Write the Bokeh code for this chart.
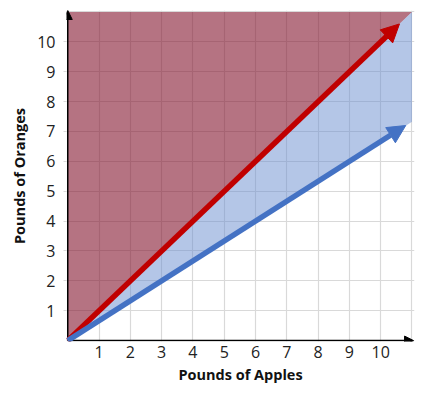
from bokeh.plotting import figure
from bokeh.models import Range1d, FixedTicker, Arrow, NormalHead
from bokeh.embed import file_html
from bokeh.resources import INLINE

# Data
ticks = [1, 2, 3, 4, 5, 6, 7, 8, 9, 10]
grid_ticks = [0, 1, 2, 3, 4, 5, 6, 7, 8, 9, 10, 11]
red_region_x = [0, 0, 11]
red_region_y = [0, 11, 11]
blue_region_x = [0, 11, 11]
blue_region_y = [0, 11, 7.33]
red_vec_x = [0, 10.6]
red_vec_y = [0, 10.6]
blue_vec_x = [0, 10.8]
blue_vec_y = [0, 7.2]
axis_end = 11.05

FONT = "Open Sans"

p = figure(width=416, height=387, output_backend="svg", toolbar_location=None,
           x_range=Range1d(-0.04, 11.08), y_range=Range1d(-0.03, 11.05),
           min_border_left=66, min_border_right=2, min_border_top=10, min_border_bottom=46)
p.outline_line_color = None
p.background_fill_color = "white"

# grid
for g in (p.xgrid, p.ygrid):
    g.ticker = FixedTicker(ticks=grid_ticks)
    g.grid_line_color = "#D9D9D9"
    g.grid_line_width = 1.2

# regions
p.patch(red_region_x, red_region_y, fill_color="#84162F", fill_alpha=0.6, line_color=None)
p.patch(blue_region_x, blue_region_y, fill_color="#698DCF", fill_alpha=0.5, line_color=None)

# axes styling
for ax in (p.xaxis[0], p.yaxis[0]):
    ax.ticker = FixedTicker(ticks=ticks)
    ax.axis_line_color = None
    ax.major_tick_line_color = "#D9D9D9"
    ax.major_tick_in = 0
    ax.minor_tick_line_color = None
    ax.major_label_text_font = FONT
    ax.major_label_text_font_size = "16px"
    ax.major_label_text_color = "#222222"
    ax.axis_label_text_font = FONT
    ax.axis_label_text_font_size = "14.5px"
    ax.axis_label_text_font_style = "bold"
    ax.axis_label_text_color = "#111111"

p.xaxis.major_tick_out = 0
p.yaxis.major_tick_out = 3
p.xaxis.axis_label = "Pounds of Apples"
p.yaxis.axis_label = "Pounds of Oranges"
p.xaxis.major_label_standoff = 4
p.yaxis.major_label_standoff = 8
p.xaxis.axis_label_standoff = 4
p.yaxis.axis_label_standoff = 5

# axis arrows
p.add_layout(Arrow(end=NormalHead(size=9, fill_color="black", line_color="black"),
                   x_start=0, y_start=0, x_end=axis_end, y_end=0,
                   line_color="black", line_width=1.5))
p.add_layout(Arrow(end=NormalHead(size=9, fill_color="black", line_color="black"),
                   x_start=0, y_start=0, x_end=0, y_end=axis_end,
                   line_color="black", line_width=1.5))

# vectors
p.add_layout(Arrow(end=NormalHead(size=18, fill_color="#C00000", line_color="#C00000"),
                   x_start=red_vec_x[0], y_start=red_vec_y[0], x_end=red_vec_x[1], y_end=red_vec_y[1],
                   line_color="#C00000", line_width=5.5))
p.add_layout(Arrow(end=NormalHead(size=18, fill_color="#4472C4", line_color="#4472C4"),
                   x_start=blue_vec_x[0], y_start=blue_vec_y[0], x_end=blue_vec_x[1], y_end=blue_vec_y[1],
                   line_color="#4472C4", line_width=5.5))

open("out.html", "w").write(file_html(p, INLINE))
